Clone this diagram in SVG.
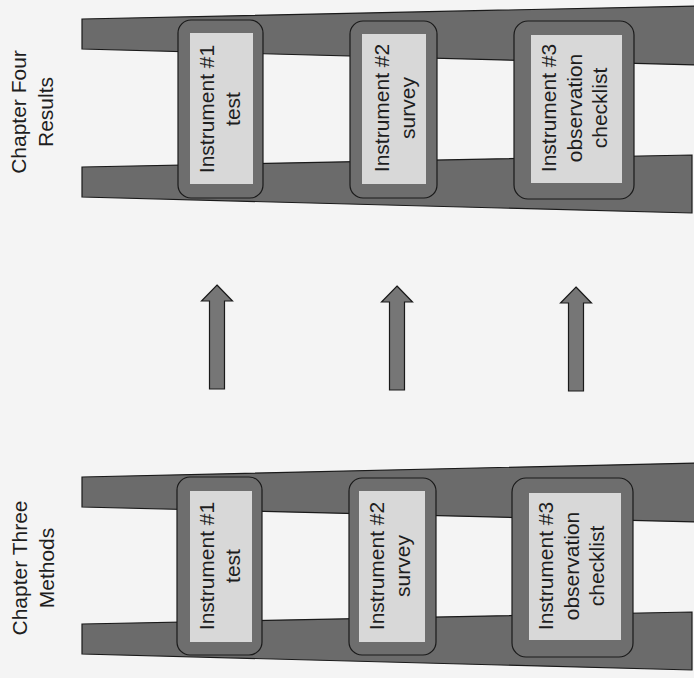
<svg xmlns="http://www.w3.org/2000/svg" width="694" height="678" viewBox="0 0 694 678">
  <defs>
    <style>
      .bg { fill:#f4f4f4; }
      .rail { fill:#6b6b6b; stroke:#1a1a1a; stroke-width:1.2; stroke-linejoin:miter; }
      .rung { fill:#6e6e6e; stroke:#1a1a1a; stroke-width:1.2; }
      .panel { fill:#d8d8d8; }
      .lbl { font-family:"Liberation Sans", Arial, sans-serif; font-size:21px; fill:#1e1e1e; text-anchor:middle; }
      .arrow { fill:#767676; stroke:#1a1a1a; stroke-width:1.2; stroke-linejoin:miter; }
    </style>
    <path id="up-arrow" d="M0,0 L15.5,16 L7.5,16 L7.5,104 L-7.5,104 L-7.5,16 L-15.5,16 Z"/>
  </defs>

  <rect class="bg" x="0" y="0" width="694" height="678"/>

  <!-- Chapter labels -->
  <g id="label-results" transform="translate(26,112) rotate(-90)">
    <text class="lbl" x="0" y="0">Chapter Four</text>
    <text class="lbl" x="0" y="27">Results</text>
  </g>
  <g id="label-methods" transform="translate(27,568) rotate(-90)">
    <text class="lbl" x="0" y="0">Chapter Three</text>
    <text class="lbl" x="0" y="27">Methods</text>
  </g>

  <!-- Top ladder: Chapter Four Results -->
  <g id="ladder-results">
    <g id="results-rails">
      <polygon class="rail" points="82,19 696,6 696,65 82,49"/>
      <polygon class="rail" points="82,167 692,155 692,213 82,197"/>
    </g>
    <g id="results-instrument-1">
      <rect class="rung" x="178" y="20" width="85" height="178" rx="13"/>
      <rect class="panel" x="190" y="33" width="63" height="151"/>
      <g transform="translate(214,109) rotate(-90)">
        <text class="lbl" x="0" y="0">Instrument #1</text>
        <text class="lbl" x="0" y="26">test</text>
      </g>
    </g>
    <g id="results-instrument-2">
      <rect class="rung" x="350" y="21" width="87" height="177" rx="13"/>
      <rect class="panel" x="362" y="34" width="64" height="150"/>
      <g transform="translate(389,108) rotate(-90)">
        <text class="lbl" x="0" y="0">Instrument #2</text>
        <text class="lbl" x="0" y="26">survey</text>
      </g>
    </g>
    <g id="results-instrument-3">
      <rect class="rung" x="514" y="21" width="120" height="178" rx="14"/>
      <rect class="panel" x="531" y="35" width="91" height="148"/>
      <g transform="translate(556,108) rotate(-90)">
        <text class="lbl" x="0" y="0">Instrument #3</text>
        <text class="lbl" x="0" y="25.5">observation</text>
        <text class="lbl" x="0" y="51">checklist</text>
      </g>
    </g>
  </g>

  <!-- Bottom ladder: Chapter Three Methods -->
  <g id="ladder-methods" transform="translate(-1,457)">
    <g id="methods-rails">
      <polygon class="rail" points="83,20 697,6 697,65 83,50"/>
      <polygon class="rail" points="83,167 693,155 693,213 83,197"/>
    </g>
    <g id="methods-instrument-1">
      <rect class="rung" x="178" y="20" width="85" height="178" rx="13"/>
      <rect class="panel" x="191" y="34" width="62" height="151"/>
      <g transform="translate(215,109) rotate(-90)">
        <text class="lbl" x="0" y="0">Instrument #1</text>
        <text class="lbl" x="0" y="26">test</text>
      </g>
    </g>
    <g id="methods-instrument-2">
      <rect class="rung" x="350" y="21" width="87" height="177" rx="13"/>
      <rect class="panel" x="360" y="34" width="66" height="151"/>
      <g transform="translate(385,109) rotate(-90)">
        <text class="lbl" x="0" y="0">Instrument #2</text>
        <text class="lbl" x="0" y="26">survey</text>
      </g>
    </g>
    <g id="methods-instrument-3">
      <rect class="rung" x="513" y="21" width="121" height="179" rx="14"/>
      <rect class="panel" x="530" y="36" width="92" height="147"/>
      <g transform="translate(554,109) rotate(-90)">
        <text class="lbl" x="0" y="0">Instrument #3</text>
        <text class="lbl" x="0" y="25.5">observation</text>
        <text class="lbl" x="0" y="51">checklist</text>
      </g>
    </g>
  </g>

  <!-- Connectors: arrows from Methods to Results -->
  <g id="connectors">
    <use href="#up-arrow" class="arrow" transform="translate(217,285)"/>
    <use href="#up-arrow" class="arrow" transform="translate(397,286)"/>
    <use href="#up-arrow" class="arrow" transform="translate(576,287)"/>
  </g>
</svg>
